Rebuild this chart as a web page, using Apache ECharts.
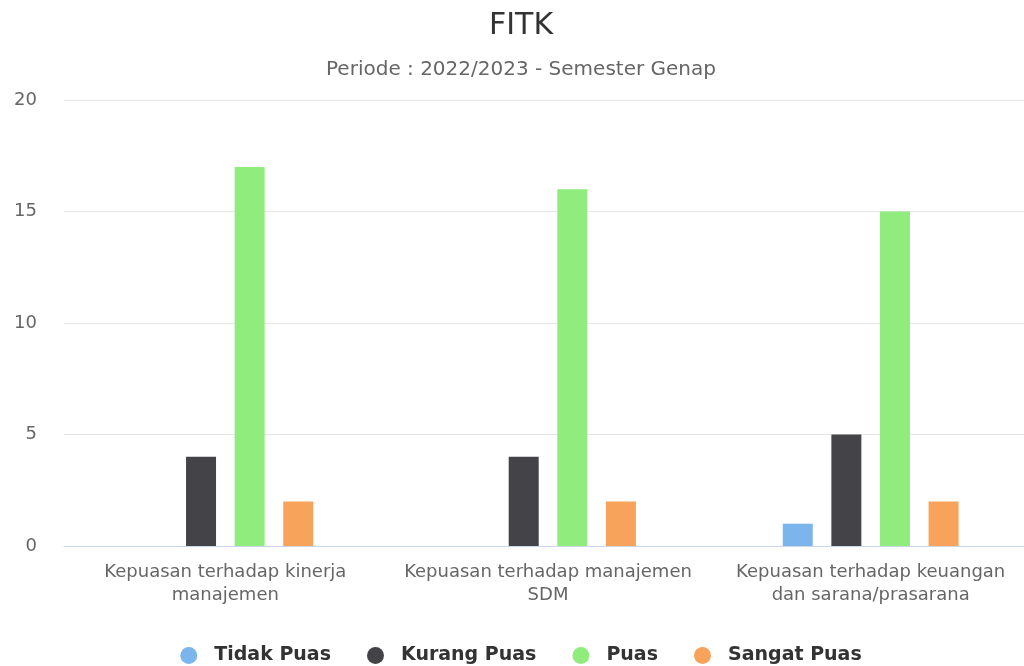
<!DOCTYPE html>
<html>
<head>
<meta charset="utf-8">
<script src="https://cdn.jsdelivr.net/npm/echarts@6/dist/echarts.min.js"></script>
<style>
  html, body { margin: 0; padding: 0; background: #fff; overflow: hidden; }
  #chart { width: 1042px; height: 666px; }
</style>
</head>
<body>
<div id="chart"></div>
<script>
// kategori & nilai
const categories = [
  'Kepuasan terhadap kinerja\nmanajemen',
  'Kepuasan terhadap manajemen\nSDM',
  'Kepuasan terhadap keuangan\ndan sarana/prasarana'
];
const tidakPuas = [0, 0, 1];
const kurangPuas = [4, 4, 5];
const puas = [17, 16, 15];
const sangatPuas = [2, 2, 2];
const yTicks = [0, 5, 10, 15, 20];

const colors = ['#7cb5ec', '#434348', '#90ed7d', '#f7a35c'];
const font = 'DejaVu Sans';

const chart = echarts.init(document.getElementById('chart'));

const mkSeries = (name, data) => ({
  name: name,
  type: 'bar',
  data: data,
  barWidth: 30,
  barGap: '62%'
});

const option = {
  animation: false,
  color: colors,
  title: [
    {
      text: 'FITK',
      left: 'center',
      top: 6,
      textStyle: { fontFamily: font, fontSize: 30, fontWeight: 'normal', color: '#333' }
    },
    {
      text: 'Periode : 2022/2023 - Semester Genap',
      left: 'center',
      top: 55,
      textStyle: { fontFamily: font, fontSize: 20, fontWeight: 'normal', color: '#666' }
    }
  ],
  legend: {
    top: 641,
    left: 'center',
    icon: 'circle',
    itemWidth: 17,
    itemHeight: 17,
    itemGap: 36,
    textStyle: { fontFamily: font, fontSize: 19, fontWeight: 'bold', color: '#333', padding: [0, 0, 0, 12] }
  },
  grid: { left: 64, right: 10, top: 100, height: 446, containLabel: false },
  xAxis: {
    type: 'category',
    data: categories,
    axisLine: { lineStyle: { color: '#ccd6eb' } },
    axisTick: { show: false },
    axisLabel: { fontFamily: font, fontSize: 18, color: '#666', lineHeight: 23, margin: 15, interval: 0 }
  },
  yAxis: {
    type: 'value',
    min: yTicks[0],
    max: yTicks[yTicks.length - 1],
    interval: 5,
    axisLine: { show: false },
    axisTick: { show: false },
    splitLine: { lineStyle: { color: '#e6e6e6' } },
    axisLabel: { fontFamily: font, fontSize: 18, color: '#666', margin: 27 }
  },
  series: [
    mkSeries('Tidak Puas', tidakPuas),
    mkSeries('Kurang Puas', kurangPuas),
    mkSeries('Puas', puas),
    mkSeries('Sangat Puas', sangatPuas)
  ]
};

chart.setOption(option);
</script>
</body>
</html>
